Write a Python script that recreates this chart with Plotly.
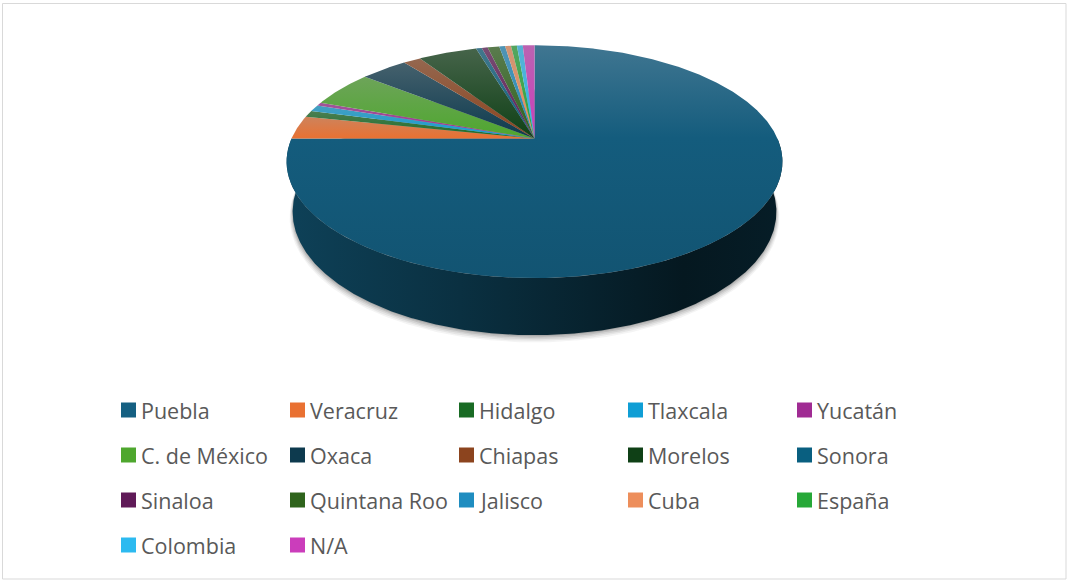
import numpy as np
import plotly.graph_objects as go

# Origin of the people counted, one slice per place
states = ["Puebla", "Veracruz", "Hidalgo", "Tlaxcala", "Yucatán",
          "C. de México", "Oxaca", "Chiapas", "Morelos", "Sonora",
          "Sinaloa", "Quintana Roo", "Jalisco", "Cuba", "España",
          "Colombia", "N/A"]
counts = [162, 7, 2, 2, 1, 11, 8, 3, 10, 1, 1, 2, 1, 1, 1, 1, 2]
colors = ["#156082", "#E97132", "#196B24", "#0F9ED5", "#A02B93",
          "#4EA72E", "#0D3A4E", "#8C441E", "#0F4016", "#095F80",
          "#601A58", "#2F641C", "#1F8DC0", "#ED8E5B", "#27A838",
          "#2CBAF0", "#CB3DBB"]

W, H = 1067, 580

# --- perspective camera for the tilted disc -------------------------------
CX, CY = 534.5, 138.5          # screen position of the disc centre
ALPHA = np.radians(27.4)       # camera elevation
DIST = np.cos(ALPHA) / 0.199   # camera distance (disc radius = 1)
FOCAL = 243.0 * DIST
THICK = 0.234                  # disc thickness


def project(theta, r=1.0, z=0.0):
    """Angle measured clockwise from the far side of the disc."""
    u = r * np.sin(theta)
    v = r * np.cos(theta)
    depth = DIST + v * np.cos(ALPHA) - z * np.sin(ALPHA)
    sx = FOCAL * u / depth
    sy = FOCAL * (v * np.sin(ALPHA) + z * np.cos(ALPHA)) / depth
    return CX + sx, CY - sy


def mix(hex_color, other, w):
    c = np.array([int(hex_color[i:i + 2], 16) for i in (1, 3, 5)], float)
    o = np.array([int(other[i:i + 2], 16) for i in (1, 3, 5)], float)
    m = c * (1 - w) + o * w
    return "rgb(%d,%d,%d)" % tuple(np.round(m))


fig = go.Figure()

# soft shadow under the disc
full = np.linspace(0, 2 * np.pi, 721)
for shift, grow, alpha in [(5, 1.012, 0.05), (4, 1.009, 0.07),
                           (3, 1.006, 0.09), (2, 1.003, 0.12), (1, 1.0, 0.15)]:
    sx_, sy_ = project(full, r=grow, z=-THICK)
    fig.add_trace(go.Scatter(
        x=sx_, y=sy_ + shift, fill="toself", mode="lines",
        line=dict(width=0), fillcolor="rgba(40,40,40,%.2f)" % alpha,
        hoverinfo="skip", showlegend=False))

# slice angles from the counts
total = float(sum(counts))
cum = np.concatenate([[0.0], np.cumsum(counts)]) / total * 2 * np.pi

# front wall of the disc (only the slices that reach the front get one)
front_lo, front_hi = np.pi / 2, 3 * np.pi / 2
for i, name in enumerate(states):
    a0, a1 = max(cum[i], front_lo), min(cum[i + 1], front_hi)
    if a1 <= a0:
        continue
    th = np.linspace(a0, a1, max(3, int(np.degrees(a1 - a0) * 3)))
    tx, ty = project(th, z=0.0)
    bx, by = project(th[::-1], z=-THICK)
    base = colors[i]
    fig.add_trace(go.Scatter(
        x=np.concatenate([tx, bx]), y=np.concatenate([ty, by]),
        fill="toself", mode="lines", line=dict(width=0),
        fillgradient=dict(type="horizontal", colorscale=[
            [0.0, mix(base, "#000000", 0.32)],
            [0.35, mix(base, "#000000", 0.50)],
            [0.8, mix(base, "#000000", 0.75)],
            [1.0, mix(base, "#000000", 0.70)]]),
        hoverinfo="skip", showlegend=False))

# top faces of the slices (colorscale runs bottom -> top of each face)
for i, name in enumerate(states):
    a0, a1 = cum[i], cum[i + 1]
    th = np.linspace(a0, a1, max(3, int(np.degrees(a1 - a0) * 3)))
    rx, ry = project(th)
    xs = np.concatenate([[CX], rx, [CX]])
    ys = np.concatenate([[CY], ry, [CY]])
    base = colors[i]
    if i == 0:
        scale = [[0.0, mix(base, "#000000", 0.12)],
                 [0.60, mix(base, "#000000", 0.04)],
                 [1.0, mix(base, "#9aa6b0", 0.32)]]
    else:
        scale = [[0.0, base],
                 [1.0, mix(base, "#a0a0a0", 0.38)]]
    fig.add_trace(go.Scatter(
        x=xs, y=ys, fill="toself", mode="lines", line=dict(width=0),
        fillgradient=dict(type="vertical", colorscale=scale),
        name=name,
        hovertemplate="%s: %d<extra></extra>" % (name, counts[i]),
        showlegend=False))

# legend: five columns, four rows
COL0, COL_STEP = 128.5, 169.0
ROW0, ROW_STEP = 410.0, 45.0
lx = [COL0 + COL_STEP * (k % 5) for k in range(len(states))]
ly = [ROW0 + ROW_STEP * (k // 5) for k in range(len(states))]
fig.add_trace(go.Scatter(
    x=lx, y=ly, mode="markers",
    marker=dict(symbol="square", size=15, color=colors,
                line=dict(width=0)),
    hoverinfo="skip", showlegend=False))
for k, name in enumerate(states):
    fig.add_annotation(
        x=lx[k] + 10.5, y=ly[k], text=name, showarrow=False,
        xanchor="left", yanchor="middle",
        font=dict(family="Open Sans, Liberation Sans, Arial", size=21.5,
                  color="#595959"))

# chart frame
fig.add_shape(type="rect", x0=2.5, y0=3.5, x1=1066, y1=579,
              line=dict(color="#D9D9D9", width=1), layer="below")

fig.update_layout(
    width=W, height=H, margin=dict(l=0, r=0, t=0, b=0),
    paper_bgcolor="white", plot_bgcolor="white", showlegend=False,
    xaxis=dict(range=[0, W], visible=False, fixedrange=True),
    yaxis=dict(range=[H, 0], visible=False, fixedrange=True),
)

fig.write_html("out.html")
